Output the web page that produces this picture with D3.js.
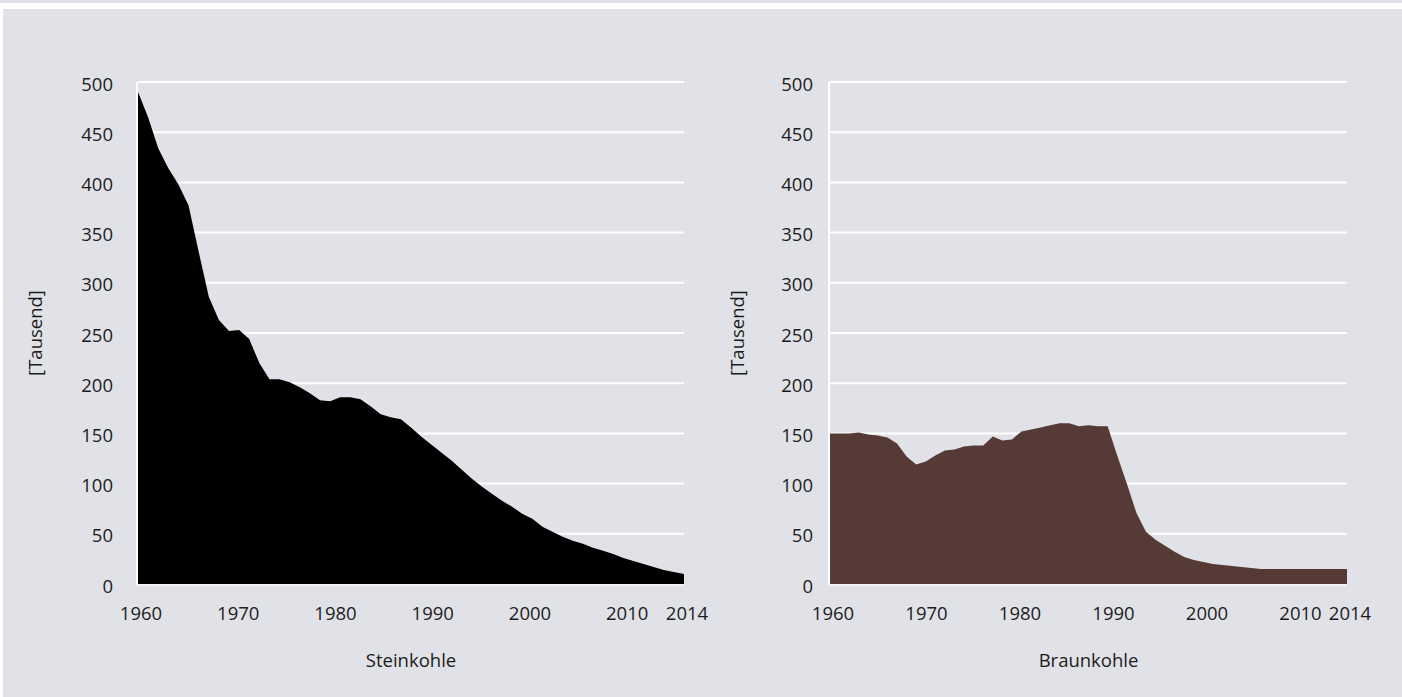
<!DOCTYPE html>
<html>
<head>
<meta charset="utf-8">
<script src="https://cdn.jsdelivr.net/npm/d3@7"></script>
<style>
  html, body { margin: 0; padding: 0; background: #ffffff; }
  svg { display: block; }
  text { font-family: "Open Sans", "DejaVu Sans", sans-serif; fill: #1c1c1c; }
</style>
</head>
<body>
<svg id="chart" width="1402" height="697"></svg>
<script>
// ---- data ----
const years = d3.range(1960, 2015);
const steinkohle = [
  490, 465, 434, 414, 398, 377, 331, 286, 263, 252,
  253, 244, 220, 204, 204, 201, 196, 190, 183, 182,
  186, 186, 184, 177, 169, 166, 164, 156, 147, 139,
  131, 123, 114, 105, 97, 90, 83, 77, 70, 65,
  57, 52, 47, 43, 40, 36, 33, 30, 26, 23,
  20, 17, 14, 12, 10
];
const braunkohle = [
  150, 150, 150, 151, 149, 148, 146, 140, 127, 119,
  122, 128, 133, 134, 137, 138, 138, 147, 143, 144,
  152, 154, 156, 158, 160, 160, 157, 158, 157, 157,
  128, 100, 71, 52, 44, 38, 32, 27, 24, 22,
  20, 19, 18, 17, 16, 15, 15, 15, 15, 15,
  15, 15, 15, 15, 15
];
const yTicks = [0, 50, 100, 150, 200, 250, 300, 350, 400, 450, 500];
const xTickLabels = [1960, 1970, 1980, 1990, 2000, 2010, 2014];
const yAxisTitle = "[Tausend]";
const panelTitles = ["Steinkohle", "Braunkohle"];

// ---- layout ----
const svg = d3.select("#chart");
const W = 1402, H = 697;
const bg = "#e1e2e7";
const fs = "18.5px";

svg.append("rect").attr("x", 0).attr("y", 0).attr("width", W).attr("height", 3).attr("fill", bg);
svg.append("rect").attr("x", 3).attr("y", 9).attr("width", W - 3).attr("height", H - 9).attr("fill", bg);

const panels = [
  { x0: 138, x1: 684, values: steinkohle, color: "#000000", title: panelTitles[0], tickGap: 25, titleX: 34, labelFrac: 0.896 },
  { x0: 830, x1: 1347, values: braunkohle, color: "#563a36", title: panelTitles[1], tickGap: 17, titleX: 736, labelFrac: 0.91 }
];

const yTop = 82, yBottom = 584;

panels.forEach(p => {
  const g = svg.append("g");
  const x = d3.scaleLinear().domain([1960, 2014]).range([p.x0, p.x1]);
  const y = d3.scaleLinear().domain([0, 500]).range([yBottom, yTop]);
  const w = p.x1 - p.x0;
  const xLabel = d3.scaleLinear()
    .domain([1960, 2010, 2014])
    .range([p.x0 + 3, p.x0 + p.labelFrac * w, p.x1 + 3]);

  // gridlines
  g.selectAll("line.grid").data(yTicks.filter(t => t > 0)).join("line")
    .attr("x1", p.x0).attr("x2", p.x1)
    .attr("y1", d => y(d)).attr("y2", d => y(d))
    .attr("stroke", "#ffffff").attr("stroke-width", 2);

  // area
  const area = d3.area()
    .x((d, i) => x(years[i]))
    .y0(y(0))
    .y1(d => y(d));
  g.append("path").datum(p.values)
    .attr("d", area)
    .attr("fill", p.color);

  // axis lines
  g.append("line")
    .attr("x1", p.x0 - 1).attr("x2", p.x0 - 1)
    .attr("y1", y(500)).attr("y2", y(0) + 2)
    .attr("stroke", "#ffffff").attr("stroke-width", 2);
  g.append("line")
    .attr("x1", p.x0 - 2).attr("x2", p.x1)
    .attr("y1", y(0) + 1).attr("y2", y(0) + 1)
    .attr("stroke", "#f4f4f6").attr("stroke-width", 2);

  // y tick labels
  g.selectAll("text.ytick").data(yTicks).join("text")
    .attr("x", p.x0 - p.tickGap)
    .attr("y", d => y(d) + 1)
    .attr("text-anchor", "end")
    .attr("dominant-baseline", "central")
    .style("font-size", fs)
    .text(d => d);

  // x tick labels
  g.selectAll("text.xtick").data(xTickLabels).join("text")
    .attr("x", d => xLabel(d))
    .attr("y", 619.5)
    .attr("text-anchor", "middle")
    .style("font-size", fs)
    .text(d => d);

  // panel title
  g.append("text")
    .attr("x", (p.x0 + p.x1) / 2)
    .attr("y", 666.5)
    .attr("text-anchor", "middle")
    .style("font-size", fs)
    .text(p.title);

  // y axis title
  g.append("text")
    .attr("transform", `translate(${p.titleX}, ${(yTop + yBottom) / 2}) rotate(-90)`)
    .attr("text-anchor", "middle")
    .attr("dominant-baseline", "central")
    .style("font-size", fs)
    .text(yAxisTitle);
});
</script>
</body>
</html>
